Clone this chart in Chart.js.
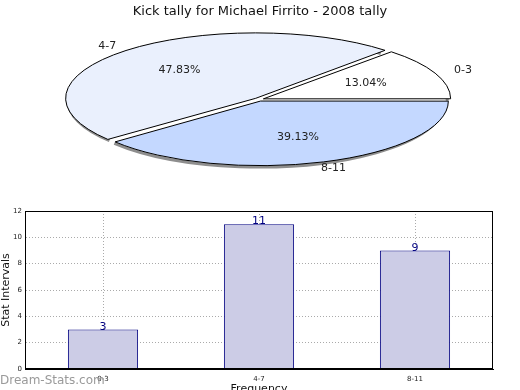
<!DOCTYPE html>
<html>
<head>
<meta charset="utf-8">
<script src="https://cdn.jsdelivr.net/npm/chart.js@4/dist/chart.umd.min.js"></script>
<style>
  html, body { margin: 0; padding: 0; background: #fff; }
  body { width: 520px; height: 390px; overflow: hidden; position: relative; }
  canvas { position: absolute; left: 0; }
  #bars { top: 200px; }
  #pie { top: 0; }
  #mark { position: absolute; left: 0; top: 373px; font: 12px "DejaVu Sans", sans-serif; color: #9a9a9a; }
</style>
</head>
<body>
<canvas id="bars" width="520" height="200"></canvas>
<canvas id="pie" width="520" height="390"></canvas>
<div id="mark">Dream-Stats.com</div>
<script>
// data
const categories = ['0-3', '4-7', '8-11'];
const tally = [3, 11, 9];
const sliceColours = ['#ffffff', '#eaf0fd', '#c4d8ff'];
const yTicks = [0, 2, 4, 6, 8, 10, 12];

Chart.defaults.font.family = '"DejaVu Sans", sans-serif';
Chart.defaults.color = '#222';

// where the flattened pie sits on the page
const CX = 259, CY = 99.5, RX = 186, RY = 64;
let geo = null;

function toPage(px, py) {
    return [CX + (px - geo.cx) * geo.sx, CY - (py - geo.cy) * geo.sy];
}

function squash(ctx) {
    ctx.translate(CX, CY);
    ctx.scale(geo.sx, -geo.sy);
    ctx.translate(-geo.cx, -geo.cy);
}

function plainStroke() {
    // stroke in page pixels so the outline stays 1px all round
    this.save();
    this.setTransform(1, 0, 0, 1, 0, 0);
    CanvasRenderingContext2D.prototype.stroke.call(this);
    this.restore();
}

const ellipsePie = {
    id: 'ellipsePie',
    beforeDatasetsDraw(chart) {
        const ctx = chart.ctx;
        const arcs = chart.getDatasetMeta(0).data;
        const a = arcs[0];
        geo = { cx: a.x, cy: a.y, sx: RX / a.outerRadius, sy: RY / a.outerRadius };

        // grey rim shadow, lower left
        ctx.save();
        ctx.translate(-2, 2);
        squash(ctx);
        ctx.beginPath();
        arcs.forEach(arc => {
            const mid = (arc.startAngle + arc.endAngle) / 2;
            const off = (arc.options.offset || 0) / 4;
            const ox = arc.x + Math.cos(mid) * off;
            const oy = arc.y + Math.sin(mid) * off;
            const r = arc.outerRadius;
            ctx.moveTo(ox + Math.cos(arc.startAngle) * r, oy + Math.sin(arc.startAngle) * r);
            ctx.arc(ox, oy, r, arc.startAngle, arc.endAngle);
        });
        ctx.setTransform(1, 0, 0, 1, 0, 0);
        ctx.lineWidth = 3;
        ctx.strokeStyle = '#8e8e8e';
        ctx.stroke();
        ctx.restore();

        ctx.save();
        squash(ctx);
        ctx.stroke = plainStroke;
    },
    afterDatasetsDraw(chart) {
        const ctx = chart.ctx;
        delete ctx.stroke;
        ctx.restore();

        const arcs = chart.getDatasetMeta(0).data;
        const total = tally.reduce((s, v) => s + v, 0);
        ctx.save();
        ctx.font = '11px "DejaVu Sans", sans-serif';
        ctx.fillStyle = '#222';
        ctx.textAlign = 'center';
        ctx.textBaseline = 'middle';
        arcs.forEach((arc, i) => {
            const mid = (arc.startAngle + arc.endAngle) / 2;
            const off = (arc.options.offset || 0) / 4;
            const bx = arc.x + Math.cos(mid) * off;
            const by = arc.y + Math.sin(mid) * off;
            const r = arc.outerRadius;
            let p = toPage(bx + Math.cos(mid) * r * 0.6, by + Math.sin(mid) * r * 0.6);
            ctx.fillText((tally[i] / total * 100).toFixed(2) + '%', p[0], p[1]);
            p = toPage(bx + Math.cos(mid) * r * 1.17, by + Math.sin(mid) * r * 1.12);
            ctx.fillText(categories[i], p[0], p[1]);
        });
        ctx.restore();
    }
};

new Chart(document.getElementById('pie'), {
    type: 'pie',
    data: {
        labels: categories,
        datasets: [{
            data: tally,
            backgroundColor: sliceColours,
            borderColor: '#000',
            borderWidth: 1,
            offset: 18,
            clip: false
        }]
    },
    options: {
        responsive: false,
        animation: false,
        devicePixelRatio: 1,
        rotation: 90,
        plugins: {
            legend: { display: false },
            tooltip: { enabled: false },
            title: {
                display: true,
                text: 'Kick tally for Michael Firrito - 2008 tally',
                color: '#111',
                font: { size: 13, weight: 'normal' },
                padding: { top: 4, bottom: 0 }
            }
        }
    },
    plugins: [ellipsePie]
});

const frame = {
    id: 'frame',
    afterDraw(chart) {
        const { ctx, chartArea: a } = chart;
        ctx.save();
        ctx.strokeStyle = '#000';
        ctx.lineWidth = 1;
        ctx.strokeRect(a.left + 0.5, a.top + 0.5, a.right - a.left - 1, a.bottom - a.top - 1);
        ctx.restore();
    }
};

const barValues = {
    id: 'barValues',
    afterDatasetsDraw(chart) {
        const ctx = chart.ctx;
        ctx.save();
        ctx.font = '11px "DejaVu Sans", sans-serif';
        ctx.fillStyle = '#000080';
        ctx.textAlign = 'center';
        ctx.textBaseline = 'alphabetic';
        chart.getDatasetMeta(0).data.forEach((bar, i) => {
            ctx.fillText(String(tally[i]), bar.x, bar.y);
        });
        ctx.restore();
    }
};

new Chart(document.getElementById('bars'), {
    type: 'bar',
    data: {
        labels: categories,
        datasets: [{
            data: tally,
            backgroundColor: '#ccccE6',
            borderColor: '#000080',
            borderWidth: 1,
            barPercentage: 0.45,
            categoryPercentage: 1
        }]
    },
    options: {
        responsive: false,
        animation: false,
        devicePixelRatio: 1,
        layout: { padding: { top: 11, right: 27, left: 0, bottom: 0 } },
        plugins: { legend: { display: false }, tooltip: { enabled: false } },
        scales: {
            x: {
                grid: { offset: false, color: '#aaaaaa', drawTicks: false },
                border: { color: '#000', dash: [1, 2] },
                ticks: { font: { size: 7 }, color: '#222', padding: 6 },
                title: { display: true, text: 'Frequency', font: { size: 11 }, color: '#111', padding: { top: 0, bottom: 4 } },
                afterFit(s) { s.height = 31; }
            },
            y: {
                min: 0,
                max: 12,
                afterBuildTicks(s) { s.ticks = yTicks.map(v => ({ value: v })); },
                grid: { color: '#aaaaaa', drawTicks: false },
                border: { color: '#000', dash: [1, 2] },
                ticks: { font: { size: 7 }, color: '#222', padding: 3 },
                title: { display: true, text: 'Stat Intervals', font: { size: 11 }, color: '#111', padding: { top: 0, bottom: 2 } },
                afterFit(s) { s.width = 25; }
            }
        }
    },
    plugins: [frame, barValues]
});
</script>
</body>
</html>
